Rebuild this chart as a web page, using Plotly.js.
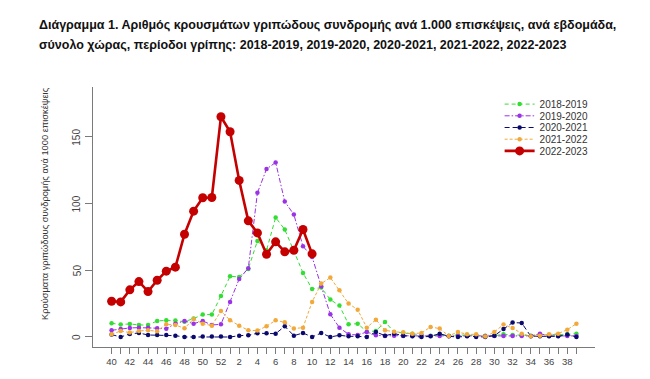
<!DOCTYPE html>
<html>
<head>
<meta charset="utf-8">
<script src="https://cdn.plot.ly/plotly-3.0.1.min.js"></script>
<style>html,body{margin:0;padding:0;background:#fff;}#chart{width:650px;height:379px;}</style>
</head>
<body>
<div id="chart"></div>
<script>
// Epidemiological weeks (season runs from week 40 to week 39)
const weeks = [40,41,42,43,44,45,46,47,48,49,50,51,52,1,2,3,4,5,6,7,8,9,10,11,12,13,14,15,16,17,18,19,20,21,22,23,24,25,26,27,28,29,30,31,32,33,34,35,36,37,38,39];
const tickLabels = ["40","","42","","44","","46","","48","","50","","52","","2","","4","","6","","8","","10","","12","","14","","16","","18","","20","","22","","24","","26","","28","","30","","32","","34","","36","","38",""];
const yTicks = [0, 50, 100, 150];
const yTickLabels = ["0", "50", "100", "150"];
const seriesNames = ["2018-2019","2019-2020","2020-2021","2021-2022","2022-2023"];

const s2018_2019 = [10.3,9.3,9.8,9,9,12,12.5,12.3,11.5,13.8,16.8,16.8,30.8,45.5,45,51,72,65,89.5,80.5,64.5,48,36,37,28,23.5,9.5,10,4,4.5,11.3,3.8,3,2.5,1.5,1,1.5,1,1.5,1.5,1,1,1,2,1.5,1.5,1,1.5,1.5,1.5,2,2.5];
const s2019_2020 = [5,6,6.8,7,7,6.6,6.2,10,12,10,12,9,9.5,26.3,43.5,51.5,108,125.8,130.8,101.5,91.7,68,60,38,17,7,2,1.5,3.8,1.3,0.8,1,0.8,0.8,0.8,0.8,0.8,0.8,0.8,0.8,0.8,0.8,0.8,0.8,0.8,0.8,0.8,2.5,0.8,0.8,0.8,0.8];
const s2020_2021 = [1.8,0,2.3,3,1.5,1.5,1.5,1,0,0,0.3,0.3,0.3,0,1,1.3,2.8,2.8,2.5,8,1,3,0,3,0,1.3,0.5,0.5,0,3.8,1,2.5,1,0.5,0,0.5,2.5,0.5,0,0.5,0,0,1,6,10.8,10.5,0.5,0.5,0.5,0.5,1.8,0];
const s2021_2022 = [2,4.5,3.3,4.5,5,4.3,9.5,9,6.5,13.5,10,8.5,19.5,12.5,8.5,5,4.8,8,12.5,11,6.3,7,26.3,40,44.5,35,25,20.5,7,13,5,4,3.5,2.5,3,7.5,6.3,0.8,3.8,2,2,0.3,3.8,9.3,6.8,2.5,0.5,1,2,2.5,5.5,10];
const s2022_2023 = [26.8,26.3,35.3,41.5,34,42.5,49.3,52.3,77,94.3,104.3,104.5,165,153.8,117.3,87,78,62,71.3,63.8,65,80.5,62.3];

const weekPos = weeks.map((w, i) => i);

const styles = [
  {color:"#33dd33", dash:"4px,3px", width:1, size:4.5},
  {color:"#9a32e6", dash:"5px,2px,1.5px,2px", width:1, size:4.5},
  {color:"#0a0a6e", dash:"5px,3px", width:1, size:4.5},
  {color:"#f2a93b", dash:"3px,2px", width:1, size:4.5},
  {color:"#c40000", dash:"solid", width:2.6, size:9}
];
const allSeries = [s2018_2019, s2019_2020, s2020_2021, s2021_2022, s2022_2023];

const traces = allSeries.map((vals, k) => ({
  type: "scatter",
  mode: "lines+markers",
  name: seriesNames[k],
  x: weekPos.slice(0, vals.length),
  y: vals,
  line: {color: styles[k].color, width: styles[k].width, dash: styles[k].dash},
  marker: {color: styles[k].color, size: styles[k].size},
  hoverinfo: "x+y+name"
}));

const axisColor = "#7a7a7a";
const fam = "Liberation Sans, Arial, sans-serif";

// rotated y tick labels, placed on the y scale at each tick value
const yLabelAnnotations = yTicks.map((v, i) => ({
  xref: "paper", yref: "y", x: -0.032, y: v, xanchor: "center", yanchor: "middle",
  showarrow: false, textangle: -90, text: yTickLabels[i],
  font: {family: fam, size: 10, color: "#444"}
}));

const layout = {
  width: 650, height: 379,
  margin: {l: 93, r: 55, t: 87, b: 32},
  paper_bgcolor: "#ffffff", plot_bgcolor: "#ffffff",
  font: {family: fam, size: 10, color: "#333"},
  showlegend: true,
  legend: {
    x: 0.81, xanchor: "left", y: 0.99, yanchor: "top",
    font: {family: fam, size: 10, color: "#333"},
    bgcolor: "rgba(0,0,0,0)", itemwidth: 30, tracegroupgap: 0
  },
  xaxis: {
    range: [-2.04, 53.04], showgrid: false, zeroline: false,
    showline: true, linecolor: axisColor, linewidth: 1,
    tickmode: "array", tickvals: weekPos, ticktext: tickLabels,
    ticks: "outside", ticklen: 6, tickcolor: axisColor, tickwidth: 1,
    tickangle: 0,
    tickfont: {family: fam, size: 9.5, color: "#444"}
  },
  yaxis: {
    range: [-7.5, 187.3], showgrid: false, zeroline: false,
    showline: true, linecolor: axisColor, linewidth: 1,
    tickmode: "array", tickvals: yTicks, showticklabels: false,
    ticks: "outside", ticklen: 7, tickcolor: axisColor, tickwidth: 1
  },
  annotations: [
    {xref: "paper", yref: "paper", x: -0.1116, y: 1.24, xanchor: "left", yanchor: "middle", showarrow: false,
     text: "<b>Διάγραμμα 1. Αριθμός κρουσμάτων γριπώδους συνδρομής ανά 1.000 επισκέψεις, ανά εβδομάδα,</b>",
     font: {family: fam, size: 12.5, color: "#111"}},
    {xref: "paper", yref: "paper", x: -0.1116, y: 1.1615, xanchor: "left", yanchor: "middle", showarrow: false,
     text: "<b>σύνολο χώρας, περίοδοι γρίπης: 2018-2019, 2019-2020, 2020-2021, 2021-2022, 2022-2023</b>",
     font: {family: fam, size: 12.5, color: "#111"}},
    {xref: "paper", yref: "paper", x: -0.0956, y: 0.55, xanchor: "center", yanchor: "middle", showarrow: false,
     textangle: -90,
     text: "Κρούσματα γριπώδους συνδρομής ανά 1000 επισκέψεις",
     font: {family: fam, size: 9.3, color: "#333"}}
  ].concat(yLabelAnnotations)
};

Plotly.newPlot("chart", traces, layout, {displayModeBar: false, staticPlot: true}).then(function (gd) {
  // tighten legend row spacing to match the original's compact key
  const items = gd.querySelectorAll(".legend .traces");
  let y0 = null;
  items.forEach(function (g, i) {
    const m = /translate\(\s*([-\d.]+)[ ,]+([-\d.]+)\s*\)/.exec(g.getAttribute("transform") || "");
    if (!m) return;
    if (y0 === null) y0 = parseFloat(m[2]);
    g.setAttribute("transform", "translate(" + m[1] + "," + (y0 + i * 11.7) + ")");
  });
});
</script>
</body>
</html>
